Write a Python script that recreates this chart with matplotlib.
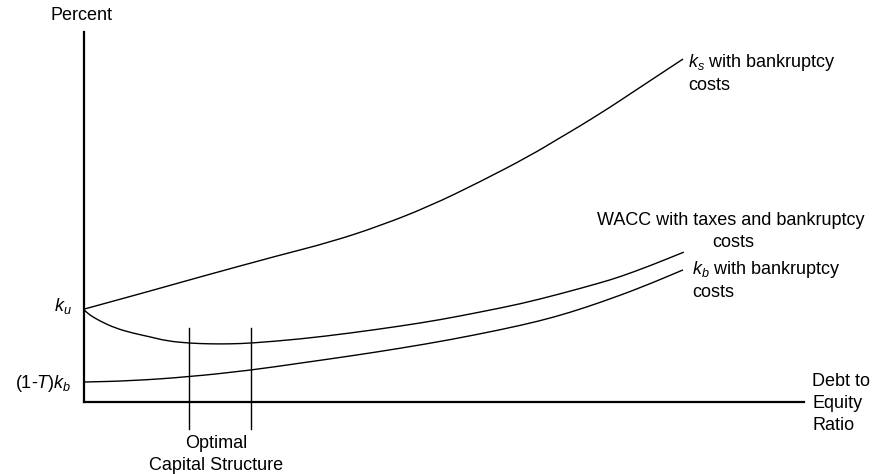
import matplotlib
matplotlib.use("Agg")
import matplotlib.pyplot as plt
from matplotlib.path import Path
from matplotlib.patches import PathPatch

plt.rcParams['font.family'] = ['Liberation Sans', 'DejaVu Sans']
plt.rcParams['mathtext.fontset'] = 'custom'
plt.rcParams['mathtext.rm'] = 'Liberation Sans'
plt.rcParams['mathtext.it'] = 'Liberation Sans:italic'

# Debt-to-equity ratio (arbitrary units) and percent (arbitrary units)
ks_x = [0, 0.92, 1.61, 2.72, 3.42, 4.11, 4.81, 5.5, 6.19, 6.61, 6.89, 7.31, 7.58, 8.32]
ks_y = [2.51, 3.0, 3.38, 3.97, 4.32, 4.76, 5.30, 5.95, 6.65, 7.14, 7.46, 7.97, 8.32, 9.27]

wacc_x = [0, 0.08, 0.22, 0.43, 0.68, 0.92, 1.15, 1.46, 1.75, 2.03, 2.32, 3.0, 3.69,
          4.39, 4.94, 5.5, 6.06, 6.61, 7.17, 7.44, 7.86, 8.33]
wacc_y = [2.49, 2.35, 2.19, 2.0, 1.86, 1.76, 1.65, 1.59, 1.57, 1.57, 1.59, 1.70, 1.86,
          2.05, 2.22, 2.43, 2.65, 2.92, 3.22, 3.38, 3.68, 4.05]

kb_x = [0, 0.64, 1.46, 2.32, 3.0, 3.69, 4.39, 5.08, 5.78, 6.33, 6.75, 7.17, 7.72, 8.32]
kb_y = [0.54, 0.57, 0.68, 0.86, 1.05, 1.24, 1.45, 1.68, 1.95, 2.19, 2.42, 2.69, 3.08, 3.57]

optimal_x = [1.46, 2.32]
optimal_y = [2.0, -0.73]

W, H = 877, 474
fig = plt.figure(figsize=(W / 100, H / 100), dpi=100)
ax = fig.add_axes([84 / W, 72 / H, 720 / W, 370 / H])
ax.set_xlim(0, 10)
ax.set_ylim(0, 10)
for s in ['top', 'right']:
    ax.spines[s].set_visible(False)
for s in ['left', 'bottom']:
    ax.spines[s].set_linewidth(1.6)
ax.set_xticks([])
ax.set_yticks([])

lw = 1.0


def smooth_curve(xs, ys):
    """Quadratic-Bezier path using the data points as control points."""
    pts = list(zip(xs, ys))
    verts = [pts[0]]
    codes = [Path.MOVETO]
    mid = lambda a, b: ((a[0] + b[0]) / 2, (a[1] + b[1]) / 2)
    verts.append(mid(pts[0], pts[1]))
    codes.append(Path.LINETO)
    for i in range(1, len(pts) - 1):
        verts += [pts[i], mid(pts[i], pts[i + 1])]
        codes += [Path.CURVE3, Path.CURVE3]
    verts.append(pts[-1])
    codes.append(Path.LINETO)
    patch = PathPatch(Path(verts, codes), facecolor='none', edgecolor='black',
                      lw=lw, transform=ax.transData, clip_on=False)
    ax.add_patch(patch)


smooth_curve(ks_x, ks_y)
smooth_curve(wacc_x, wacc_y)
smooth_curve(kb_x, kb_y)
for xv in optimal_x:
    ax.plot([xv, xv], optimal_y, color='black', lw=lw, clip_on=False)

fs = 13


def ptext(x, y, s, ha='left'):
    fig.text(x / W, 1 - y / H, s, ha=ha, va='baseline', fontsize=fs)


ptext(81.5, 20.5, 'Percent', ha='center')
ptext(72, 311, r'$k_u$', ha='right')
ptext(72, 388, r'(1-$T$)$k_b$', ha='right')
ptext(216.5, 448, 'Optimal', ha='center')
ptext(216.5, 470, 'Capital Structure', ha='center')
ptext(812, 386, 'Debt to')
ptext(812, 408, 'Equity')
ptext(812, 430, 'Ratio')
ptext(688, 67, r'$k_s$ with bankruptcy')
ptext(688, 90, 'costs')
ptext(597, 225, 'WACC with taxes and bankruptcy')
ptext(712, 247, 'costs')
ptext(692, 274, r'$k_b$ with bankruptcy')
ptext(692, 297, 'costs')

fig.savefig('out.png', dpi=100)
